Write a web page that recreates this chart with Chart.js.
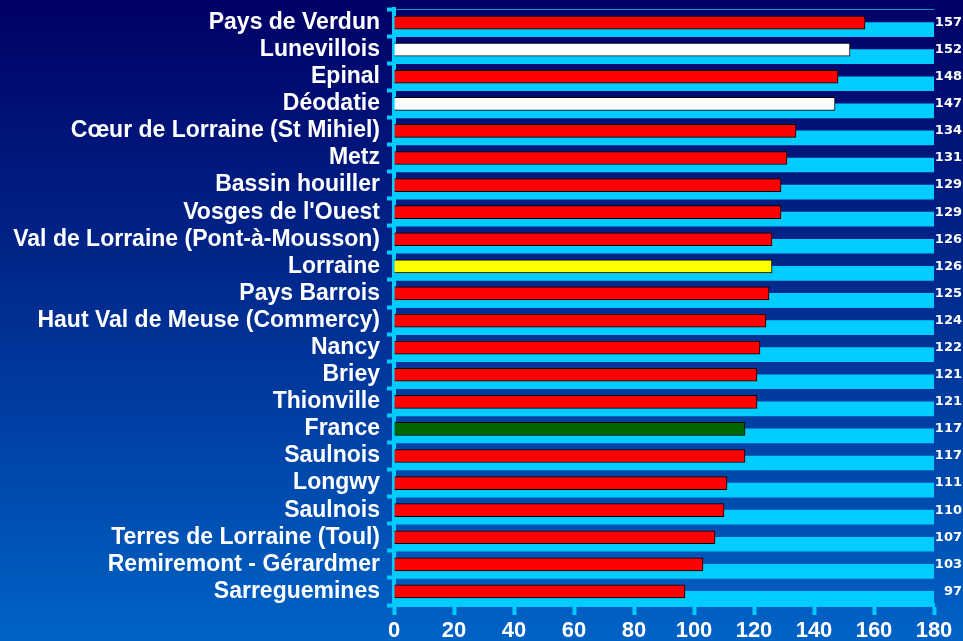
<!DOCTYPE html>
<html>
<head>
<meta charset="utf-8">
<script src="https://cdn.jsdelivr.net/npm/chart.js@4.4.1/dist/chart.umd.min.js"></script>
<style>
  body {
    margin: 0;
    width: 963px;
    height: 641px;
    overflow: hidden;
    background: linear-gradient(#000066, #002a8e 45%, #0063c6);
  }
  #wrap { width: 963px; height: 641px; }
</style>
</head>
<body>
<div id="wrap"><canvas id="myChart"></canvas></div>
<script>
const regions = [
  'Pays de Verdun', 'Lunevillois', 'Epinal', 'Déodatie',
  'Cœur de Lorraine (St Mihiel)', 'Metz', 'Bassin houiller', "Vosges de l'Ouest",
  'Val de Lorraine (Pont-à-Mousson)', 'Lorraine', 'Pays Barrois',
  'Haut Val de Meuse (Commercy)', 'Nancy', 'Briey', 'Thionville', 'France',
  'Saulnois', 'Longwy', 'Saulnois', 'Terres de Lorraine (Toul)',
  'Remiremont - Gérardmer', 'Sarreguemines'
];
const values = [157, 152, 148, 147, 134, 131, 129, 129, 126, 126, 125,
                124, 122, 121, 121, 117, 117, 111, 110, 107, 103, 97];
const barColors = [
  '#ff0000', '#ffffff', '#ff0000', '#ffffff', '#ff0000', '#ff0000',
  '#ff0000', '#ff0000', '#ff0000', '#ffff00', '#ff0000', '#ff0000',
  '#ff0000', '#ff0000', '#ff0000', '#006600', '#ff0000', '#ff0000',
  '#ff0000', '#ff0000', '#ff0000', '#ff0000'
];
const axisMax = 180;
const axisStep = 20;
const bandValues = regions.map(() => axisMax);

const cyan = '#00ccff';
const ctx = document.getElementById('myChart');

new Chart(ctx, {
  type: 'bar',
  data: {
    labels: regions,
    datasets: [
      {
        // the value bars, centred in each row
        data: values,
        backgroundColor: barColors,
        borderColor: '#000000',
        borderWidth: 1,
        borderSkipped: 'start',
        grouped: false,
        barThickness: 13
      },
      {
        // empty slot so the cyan band sits in the lower half of the row
        data: regions.map(() => null),
        barThickness: 14
      },
      {
        data: bandValues,
        backgroundColor: cyan,
        borderWidth: 0,
        barThickness: 14
      }
    ]
  },
  options: {
    indexAxis: 'y',
    responsive: true,
    maintainAspectRatio: false,
    animation: false,
    layout: { padding: { top: 9, right: 1, left: 0, bottom: 0 } },
    plugins: {
      legend: { display: false },
      tooltip: { enabled: false }
    },
    scales: {
      x: {
        min: 0,
        max: axisMax,
        border: { color: cyan, width: 4 },
        grid: {
          drawOnChartArea: false,
          color: cyan,
          tickColor: cyan,
          tickLength: 10,
          tickWidth: 4
        },
        ticks: {
          stepSize: axisStep,
          color: '#ffffff',
          padding: 3,
          font: { family: 'Liberation Sans, Arial', size: 22, weight: 'bold' }
        },
        afterFit: function(scale) {
          scale.height = 36;
          scale.paddingLeft = 0;
          scale.paddingRight = 0;
        }
      },
      y: {
        border: { color: cyan, width: 4 },
        grid: {
          color: '#0099cc',
          lineWidth: 1,
          tickColor: cyan,
          tickLength: 7,
          tickWidth: 4
        },
        ticks: {
          autoSkip: false,
          color: '#ffffff',
          padding: 7,
          font: { family: 'Liberation Sans, Arial', size: 23, weight: 'bold' }
        },
        afterFit: function(scale) {
          scale.width = 394;
          scale.paddingTop = 0;
          scale.paddingBottom = 0;
        }
      },
      yValues: {
        type: 'category',
        position: 'right',
        labels: values.map(String),
        offset: true,
        grid: { display: false },
        border: { display: false },
        ticks: {
          autoSkip: false,
          color: '#ffffff',
          padding: 0,
          crossAlign: 'far',
          font: { family: 'DejaVu Sans', size: 13, weight: 'bold' }
        },
        afterFit: function(scale) {
          scale.width = 28;
          scale.paddingTop = 0;
          scale.paddingBottom = 0;
        }
      }
    }
  }
});
</script>
</body>
</html>
